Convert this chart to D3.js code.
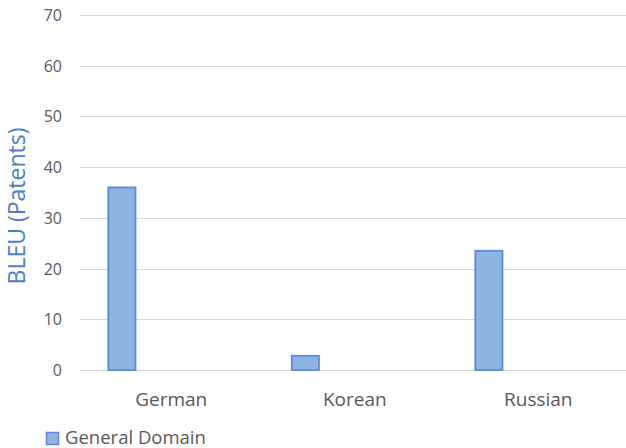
<!DOCTYPE html>
<html>
<head>
<meta charset="utf-8">
<script src="https://cdn.jsdelivr.net/npm/d3@7"></script>
<style>
  html, body { margin: 0; padding: 0; background: #fff; }
  svg { display: block; font-family: "Open Sans", sans-serif; }
</style>
</head>
<body>
<svg id="chart" width="626" height="448"></svg>
<script>
const categories = ["German", "Korean", "Russian"];
const seriesName = "General Domain";
const values = [36.0, 2.8, 23.5];
const yTicks = [0, 10, 20, 30, 40, 50, 60, 70];
const yTitle = "BLEU (Patents)";

const svg = d3.select("#chart");
const plotLeft = 79.5, plotRight = 630, plotTop = 15, plotBottom = 370;

const x = d3.scaleBand().domain(categories).range([plotLeft, plotRight]).padding(0);
const y = d3.scaleLinear().domain([0, 70]).range([plotBottom, plotTop]);

// gridlines
svg.append("g").selectAll("line").data(yTicks).join("line")
  .attr("x1", 80).attr("x2", 626)
  .attr("y1", d => Math.round(y(d)) + 0.5).attr("y2", d => Math.round(y(d)) + 0.5)
  .attr("stroke", "#D9D9D9").attr("stroke-width", 1);

// y tick labels
svg.append("g").selectAll("text").data(yTicks).join("text")
  .attr("x", 62).attr("y", d => y(d) + 6)
  .attr("text-anchor", "end")
  .attr("font-size", 16).attr("fill", "#595959")
  .text(d => d);

// bars
const bw = x.bandwidth();
svg.append("g").selectAll("rect").data(values).join("rect")
  .attr("x", (d, i) => x(categories[i]) + bw * 0.157)
  .attr("y", d => y(d))
  .attr("width", bw * 0.148)
  .attr("height", d => y(0) - y(d))
  .attr("fill", "#8EB4E3")
  .attr("stroke", "#5A8AD6")
  .attr("stroke-width", 1.8);

// category labels
svg.append("g").selectAll("text").data(categories).join("text")
  .attr("x", d => x(d) + bw / 2).attr("y", 406)
  .attr("text-anchor", "middle")
  .attr("font-size", 19).attr("fill", "#595959")
  .text(d => d);

// y title
svg.append("text")
  .attr("transform", "translate(25,206) rotate(-90)")
  .attr("text-anchor", "middle")
  .attr("font-size", 23).attr("fill", "#4A7EC7")
  .text(yTitle);

// legend
svg.append("rect")
  .attr("x", 46.5).attr("y", 432.5).attr("width", 12).attr("height", 12)
  .attr("fill", "#8EB4E3").attr("stroke", "#5A8AD6").attr("stroke-width", 1.5);
svg.append("text")
  .attr("x", 65).attr("y", 443.5)
  .attr("font-size", 18.5).attr("fill", "#595959")
  .text(seriesName);
</script>
</body>
</html>
